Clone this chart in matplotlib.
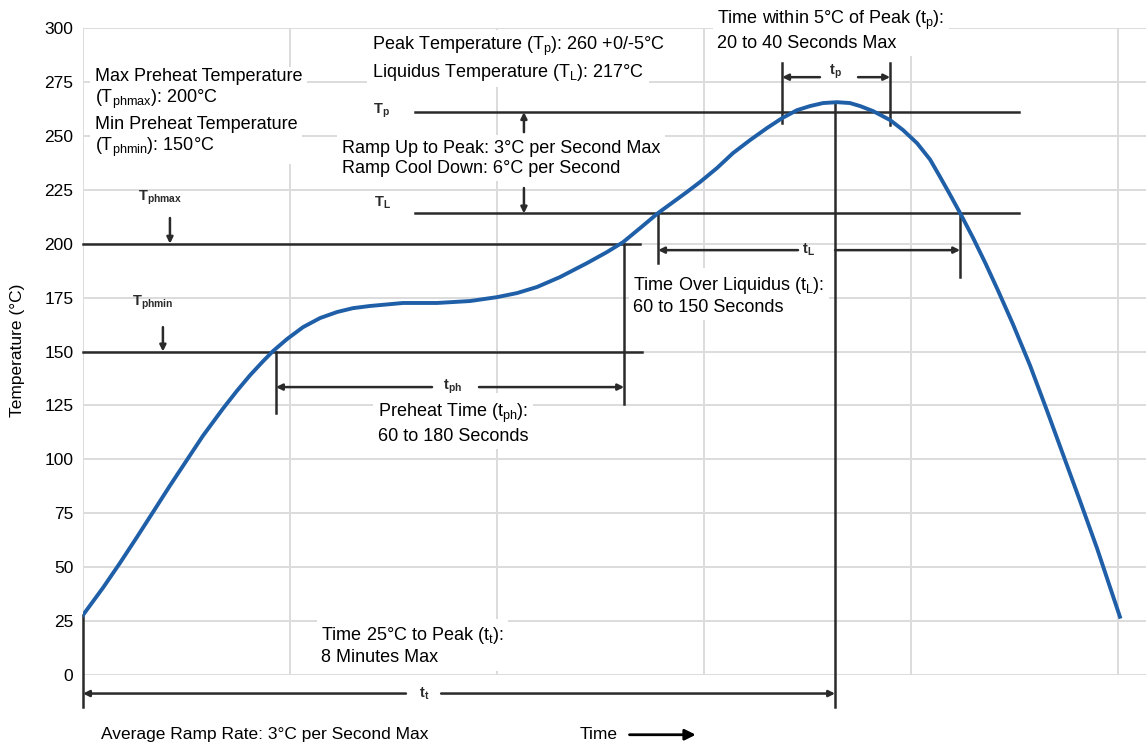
import matplotlib
matplotlib.use("Agg")
import matplotlib.pyplot as plt

# perfil de soldadura (eje de tiempo sin unidades)
tiempo = [0, 9.7, 17.9, 26.1, 33.8, 42.0, 50.2, 58.0, 67.6, 74.4, 80.7, 87.0,
          91.8, 98.6, 106.3, 114.5, 122.7, 130.4, 138.6, 154.6, 171.0, 187.0,
          200.0, 209.7, 219.3, 230.4, 243.5, 253.1, 260.9, 269.1, 277.8,
          291.8, 298.1, 306.3, 314.0, 322.2, 330.4, 337.7, 344.9, 351.2,
          357.5, 364.3, 370.5, 375.4, 381.6, 389.9, 396.1, 402.9, 409.2,
          414.0, 418.8, 423.7, 430.0, 436.0, 442.0, 449.3, 457.5, 465.7,
          473.4, 481.6, 489.9, 500.9]
temperatura = [27.8, 40.5, 52.0, 64.0, 75.5, 87.8, 99.7, 111.0, 123.5, 131.8,
               139.0, 145.5, 150.2, 155.8, 161.3, 165.5, 168.3, 170.1, 171.1,
               172.5, 172.5, 173.4, 175.2, 177.1, 179.9, 184.5, 191.0, 196.1,
               200.7, 207.2, 214.2, 224.0, 228.6, 235.1, 242.0, 248.0, 253.6,
               258.2, 261.9, 263.8, 265.2, 265.6, 265.2, 263.8, 261.5, 257.3,
               252.7, 246.6, 239.0, 231.0, 222.8, 214.2, 202.6, 190.8, 178.3,
               162.5, 143.5, 122.5, 102.3, 80.8, 58.6, 27.0]

# niveles de temperatura
T_phmin = 150
T_phmax = 200
T_L = 214
T_p = 261

# tiempos caracteristicos
t_ph_ini, t_ph_fin = 93.2, 261.4
t_L_ini, t_L_fin = 277.8, 423.7
t_p_ini, t_p_fin = 337.7, 389.9
t_pico = 363.3

y_ticks = [0, 25, 50, 75, 100, 125, 150, 175, 200, 225, 250, 275, 300]

plt.rcParams['font.family'] = ['Liberation Sans', 'DejaVu Sans']
plt.rcParams['mathtext.fontset'] = 'custom'
plt.rcParams['mathtext.rm'] = 'Liberation Sans'
plt.rcParams['mathtext.it'] = 'Liberation Sans:italic'
plt.rcParams['mathtext.bf'] = 'Liberation Sans:bold'

NEGRO = '#2a2a2a'
AZUL = '#1f5fa8'
FS = 13

fig = plt.figure(figsize=(11.46, 7.44), dpi=100)
ax = fig.add_axes([83 / 1146, 1 - 675 / 744, 1 - 83 / 1146, (675 - 28) / 744])

ax.set_xlim(0, 513.5)
ax.set_ylim(0, 300)
ax.set_xticks([0, 100, 200, 300, 400, 500])
ax.set_xticklabels([])
ax.set_yticks(y_ticks)
ax.tick_params(length=0, labelsize=12.5, pad=7)
ax.grid(True, color='#dcdcdc', linewidth=1.4)
for s in ax.spines.values():
    s.set_visible(False)
ax.set_axisbelow(True)

fig.text(18 / 1146, 1 - 350 / 744, 'Temperature (°C)', rotation=90,
         ha='center', va='center', fontsize=12.5)

# LINEAS DE NIVEL
kw = dict(color=NEGRO, linewidth=1.8, clip_on=False, zorder=2)
ax.plot([0, 269], [T_phmax, T_phmax], **kw)
ax.plot([0, 270], [T_phmin, T_phmin], **kw)
ax.plot([160.4, 452.2], [T_L, T_L], **kw)
ax.plot([160.4, 452.2], [T_p, T_p], **kw)

# LINEAS VERTICALES
ax.plot([t_ph_ini, t_ph_ini], [T_phmin, 121.5], **kw)
ax.plot([t_ph_fin, t_ph_fin], [T_phmax, 125.6], **kw)
ax.plot([t_L_ini, t_L_ini], [T_L, 191.0], **kw)
ax.plot([t_L_fin, t_L_fin], [T_L, 184.5], **kw)
ax.plot([t_p_ini, t_p_ini], [283.7, 255.9], **kw)
ax.plot([t_p_fin, t_p_fin], [283.7, 255.0], **kw)
ax.plot([t_pico, t_pico], [max(temperatura), -14.8], **kw)
ax.plot([0, 0], [temperatura[0], -14.8], **kw)


def flecha(x0, y0, x1, y1):
    ax.annotate('', xy=(x1, y1), xytext=(x0, y0), annotation_clip=False,
                arrowprops=dict(arrowstyle='-|>', color=NEGRO, lw=1.8,
                                mutation_scale=9, shrinkA=0, shrinkB=0))


# COTAS
flecha(168.6, 133.5, t_ph_ini, 133.5)
flecha(191.3, 133.5, t_ph_fin, 133.5)
flecha(345.4, 197.0, t_L_ini, 197.0)
flecha(t_pico, 197.0, t_L_fin, 197.0)
flecha(356.0, 277.2, t_p_ini, 277.2)
flecha(374.4, 277.2, t_p_fin, 277.2)
flecha(156.0, -8.6, 0, -8.6)
flecha(173.0, -8.6, t_pico, -8.6)
flecha(42.0, 211.9, 42.0, T_phmax)
flecha(38.6, 161.3, 38.6, T_phmin)
flecha(213.0, 251.7, 213.0, T_p)
flecha(213.0, 225.8, 213.0, T_L)

# CURVA
ax.plot(tiempo, temperatura, color=AZUL, linewidth=2.8, zorder=3,
        solid_joinstyle='round')

# ETIQUETAS PEQUENAS
lab = dict(fontsize=10.5, color=NEGRO, va='center', clip_on=False)
ax.text(26.6, 221.1, r'$\mathbf{T_{phmax}}$', **lab)
ax.text(23.7, 172.5, r'$\mathbf{T_{phmin}}$', **lab)
ax.text(140.1, 261.5, r'$\mathbf{T_{p}}$', **lab)
ax.text(140.6, 218.8, r'$\mathbf{T_{L}}$', **lab)
ax.text(178.7, 133.5, r'$\mathbf{t_{ph}}$', ha='center', **lab)
ax.text(350.2, 197.0, r'$\mathbf{t_{L}}$', ha='center', **lab)
ax.text(t_pico, 279.5, r'$\mathbf{t_{p}}$', ha='center', **lab)
ax.text(165.0, -8.6, r'$\mathbf{t_{t}}$', ha='center', **lab)

# CUADROS DE TEXTO
caja = dict(boxstyle='square,pad=0.25', facecolor='white', edgecolor='none')
txt = dict(fontsize=FS, va='top', bbox=caja, clip_on=False, zorder=4)
ax.text(5.8, 281.5, 'Max Preheat Temperature\n(T$_{\\mathrm{phmax}}$): 200°C', **txt)
ax.text(5.8, 259.2, 'Min Preheat Temperature\n(T$_{\\mathrm{phmin}}$): 150°C', **txt)
ax.text(139.6, 296.8, 'Peak Temperature (T$_{\\mathrm{p}}$): 260 +0/-5°C', **txt)
ax.text(139.6, 284.3, 'Liquidus Temperature (T$_{\\mathrm{L}}$): 217°C', **txt)
ax.text(125.1, 248.1, 'Ramp Up to Peak: 3°C per Second Max\nRamp Cool Down: 6°C per Second', **txt)
ax.text(306.3, 308.8, 'Time within 5°C of Peak (t$_{\\mathrm{p}}$):\n20 to 40 Seconds Max', **txt)
ax.text(265.7, 185.5, 'Time Over Liquidus (t$_{\\mathrm{L}}$):\n60 to 150 Seconds', **txt)
ax.text(178.7, 126.6, 'Preheat Time (t$_{\\mathrm{ph}}$):\n60 to 180 Seconds', ha='center', **txt)
ax.text(115.0, 23.0, 'Time 25°C to Peak (t$_{\\mathrm{t}}$):\n8 Minutes Max', **txt)
ax.text(8.7, -27.7, 'Average Ramp Rate: 3°C per Second Max', fontsize=12.5,
        va='center', clip_on=False)
ax.text(240.0, -27.7, 'Time', fontsize=12.5, va='center', clip_on=False)
ax.annotate('', xy=(296, -27.7), xytext=(264, -27.7), annotation_clip=False,
            arrowprops=dict(arrowstyle='-|>', color='black', lw=2,
                            mutation_scale=16, shrinkA=0, shrinkB=0))

fig.savefig('out.png', dpi=100)
